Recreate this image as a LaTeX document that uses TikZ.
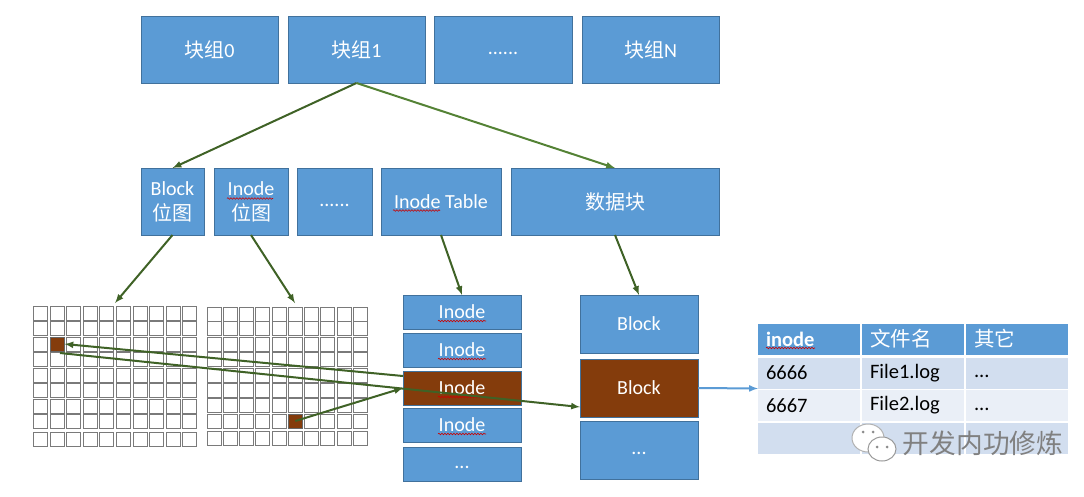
\documentclass[tikz,border=0pt]{standalone}
\usepackage{fontspec}
\setmainfont{Carlito}
\newfontfamily\cjk{Noto Sans CJK SC}
\usetikzlibrary{positioning, shapes.geometric, decorations.pathmorphing}
\definecolor{boxblue}{HTML}{5B9BD5}
\definecolor{boxline}{HTML}{41719C}
\definecolor{boxbrown}{HTML}{843C0C}
\definecolor{rowdark}{HTML}{D2DEEF}
\definecolor{rowlight}{HTML}{EAEFF7}
\definecolor{arrdark}{HTML}{3F6226}
\definecolor{arrlight}{HTML}{548235}

\begin{document}
\begin{tikzpicture}[
	x=1pt, y=-1pt,
	node distance=10pt,
	blk/.style = {shape=rectangle, draw=boxline, line width=0.6pt, fill=boxblue, text=white, inner sep=0pt, outer sep=0pt, align=center, font=\fontsize{20}{25}\selectfont},
	row1/.style = {blk, minimum width=137pt, minimum height=67pt},
	row2/.style = {blk, minimum height=67pt},
	inod/.style = {blk, minimum width=118pt, minimum height=34pt},
	bloc/.style = {blk, minimum width=118pt, minimum height=58pt},
	hot/.style = {fill=boxbrown},
	cell/.style = {shape=rectangle, draw=black!52, line width=1pt, fill=white, anchor=north west, inner sep=0pt, outer sep=0pt, minimum width=14.5pt, minimum height=14pt},
	hotcell/.style = {cell, fill=boxbrown, draw=black!60},
	tcell/.style = {shape=rectangle, draw=none, inner sep=0pt, outer sep=0pt, minimum width=102pt, minimum height=31pt, text width=86pt, align=left, font=\fontsize{20.5}{24}\selectfont},
	thead/.style = {tcell, fill=boxblue, text=white},
	arr/.style = {draw=arrdark, line width=2pt, -latex},
	arr2/.style = {draw=arrlight, line width=2pt, -latex},
	squig/.style = {draw=red!80!black, line width=0.6pt, decorate, decoration={snake, amplitude=0.8pt, segment length=3pt}},
	]
\useasboundingbox (0,0) rectangle (1084,496);
% top row
\node[row1] (grp0) at (209.5,49.5) {{\cjk 块组}0};
\node[row1, right=10pt of grp0] (grp1) {{\cjk 块组}1};
\node[row1, right=9pt of grp1, minimum width=138pt] (grp2) {\vphantom{Ag}......};
\node[row1, right=10pt of grp2] (grpN) {{\cjk 块组}N};
% second row
\node[row2, minimum width=63pt] (bbmp) at (172.5,201.5) {Block\\{\cjk 位图}};
\node[row2, minimum width=74pt, right=10pt of bbmp] (ibmp) {Inode\\{\cjk 位图}};
\node[row2, minimum width=75pt, right=9pt of ibmp] (more) {\vphantom{Ag}......};
\node[row2, minimum width=120pt, right=9pt of more] (itab) {Inode Table};
\node[row2, minimum width=208pt, right=10pt of itab] (data) {{\cjk 数据块}};
% inode stack
\node[inod] (in1) at (462,312) {Inode};
\node[inod, below=4pt of in1] (in2) {Inode};
\node[inod, hot, below=4pt of in2] (in3) {Inode};
\node[inod, below=3pt of in3] (in4) {Inode};
\node[inod, below=5pt of in4] (in5) {\vphantom{Ag}...};
% block stack
\node[bloc] (bk1) at (639,324) {Block};
\node[bloc, hot, below=6pt of bk1] (bk2) {Block};
\node[bloc, below=4pt of bk2] (bk3) {\vphantom{Ag}...};
% bitmap grids
\foreach \x [count=\i] in {33,50,66,83,99,116,133,149,166,182}
	\foreach \y [count=\j] in {306,321,337,352,368,383,399,414,432}
		\node[cell] (a-\i-\j) at (\x,\y) {};
\foreach \x [count=\i] in {207,223,239,255,272,288,304,320,337,353}
	\foreach \y [count=\j] in {307,321,337,352,368,383,398,414,431}
		\node[cell] (b-\i-\j) at (\x,\y) {};
\node[hotcell] (hota) at (a-2-3.north west) {};
\node[hotcell] (hotb) at (b-6-8.north west) {};
% table
\node[thead] (t11) at (809,339) {\textbf{inode}};
\node[thead, right=2pt of t11] (t12) {{\cjk 文件名}};
\node[thead, right=2pt of t12] (t13) {{\cjk 其它}};
\node[tcell, fill=rowdark, below=3pt of t11] (t21) {6666};
\node[tcell, fill=rowdark, below=3pt of t12] (t22) {File1.log};
\node[tcell, fill=rowdark, below=3pt of t13] (t23) {\vphantom{Ag}...};
\node[tcell, fill=rowlight, below=1.5pt of t21] (t31) {6667};
\node[tcell, fill=rowlight, below=1.5pt of t22] (t32) {File2.log};
\node[tcell, fill=rowlight, below=1.5pt of t23] (t33) {\vphantom{Ag}...};
\node[tcell, fill=rowdark, below=1.5pt of t31] (t41) {};
\node[tcell, fill=rowdark, below=1.5pt of t32] (t42) {};
\node[tcell, fill=rowdark, below=1.5pt of t33] (t43) {};
% spell check marks
\foreach \n in {in1,in2,in3,in4}
	\draw[squig] ([xshift=-24pt,yshift=-9pt]\n.center) -- ([xshift=24pt,yshift=-9pt]\n.center);
\draw[squig] ([xshift=-24pt,yshift=3pt]ibmp.center) -- ([xshift=22pt,yshift=3pt]ibmp.center);
\draw[squig] ([xshift=-48pt,yshift=-9pt]itab.center) -- ([xshift=-1pt,yshift=-9pt]itab.center);
\draw[squig] ([xshift=-43pt,yshift=-9pt]t11.center) -- ([xshift=6pt,yshift=-9pt]t11.center);
% free ends
\coordinate (g1top) at (115,303);
\coordinate (g2top) at (295,303);
\coordinate (infrom) at (403,376);
\coordinate (hotaout) at (60,353);
\coordinate (bkin) at (580,407);
% arrows
\draw[arr] (grp1.south) -- (bbmp.north);
\draw[arr2] (grp1.south) -- (data.north);
\draw[arr] (bbmp.south) -- (g1top);
\draw[arr] (ibmp.south) -- (g2top);
\draw[arr] (itab.south) -- (in1.north);
\draw[arr] (data.south) -- (bk1.north);
\draw[arr] (hotb.center) -- (in3.west);
\draw[arr] (infrom) -- (hota.east);
\draw[arr] (hotaout) -- (bkin);
\draw[draw=boxblue, line width=2pt, -latex] (bk2.east) -- (t21.south west);
% watermark
\draw[draw=black!30, fill=white, line width=1pt] (868,438) ellipse [x radius=16, y radius=14];
\draw[draw=black!40, fill=white, line width=1pt] (882,449) ellipse [x radius=14, y radius=12];
\fill[black!45] (863,432) circle [radius=1.5] (873,432) circle [radius=1.5] (877,447) circle [radius=1.5] (887,447) circle [radius=1.5];
\node[shape=rectangle, draw=none, text=black!50, inner sep=0pt, font=\fontsize{26.7}{30}\selectfont\cjk] (wmark) at (983,443) {开发内功修炼};
\end{tikzpicture}
\end{document}
